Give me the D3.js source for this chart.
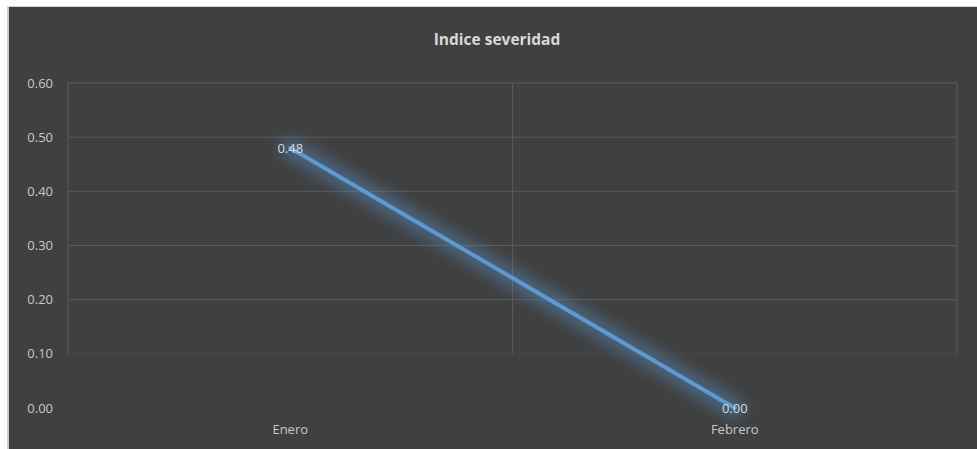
<!DOCTYPE html>
<html>
<head>
<meta charset="utf-8">
<script src="https://cdn.jsdelivr.net/npm/d3@7"></script>
<style>
  body { margin: 0; background: #fff; }
  svg { display: block; }
</style>
</head>
<body>
<div id="chart"></div>
<script>
const months = ["Enero", "Febrero"];
const severidad = [0.48, 0.00];
const yTicks = [0, 0.1, 0.2, 0.3, 0.4, 0.5, 0.6];

const width = 977, height = 449;
const margin = {left: 68, right: 20, top: 83, bottom: 41};

const svg = d3.select("#chart").append("svg")
  .attr("width", width)
  .attr("height", height);

// outer frame
svg.append("rect").attr("x", 7).attr("y", 6).attr("width", width).attr("height", height)
  .attr("fill", "#d0d0d0");
svg.append("rect").attr("x", 9).attr("y", 7).attr("width", width).attr("height", height)
  .attr("fill", "#404040");

const x = d3.scaleBand().domain(months).range([margin.left, 957]);
const y = d3.scaleLinear().domain([0, 0.6]).range([408, margin.top]);

const defs = svg.append("defs");
const glow = defs.append("filter").attr("id", "glow")
  .attr("x", "-20%").attr("y", "-20%").attr("width", "140%").attr("height", "140%");
glow.append("feGaussianBlur").attr("stdDeviation", 7);

// horizontal gridlines
svg.append("g")
  .selectAll("line")
  .data(yTicks.filter(d => d > 0))
  .join("line")
  .attr("x1", margin.left).attr("x2", 957)
  .attr("y1", d => y(d)).attr("y2", d => y(d))
  .attr("stroke", "#5a5a5a")
  .attr("stroke-opacity", d => d <= 0.1 ? 0.4 : 1)
  .attr("stroke-width", 1);

// vertical gridlines at band edges
const edges = [margin.left, ...months.map(m => x(m) + x.bandwidth())];
svg.append("g")
  .selectAll("line")
  .data(edges)
  .join("line")
  .attr("x1", d => d).attr("x2", d => d)
  .attr("y1", y(0.6)).attr("y2", y(0.1))
  .attr("stroke", "#5a5a5a")
  .attr("stroke-width", 1);

// y tick labels
svg.append("g")
  .selectAll("text")
  .data(yTicks)
  .join("text")
  .attr("x", 53)
  .attr("y", d => y(d))
  .attr("dy", "0.35em")
  .attr("text-anchor", "end")
  .attr("fill", "#c8c8c8")
  .attr("font-family", "Open Sans, Noto Sans, sans-serif")
  .attr("font-size", 13)
  .text(d => d3.format(".2f")(d));

// x labels
svg.append("g")
  .selectAll("text")
  .data(months)
  .join("text")
  .attr("x", d => x(d) + x.bandwidth() / 2)
  .attr("y", 434)
  .attr("text-anchor", "middle")
  .attr("fill", "#c8c8c8")
  .attr("font-family", "Open Sans, Noto Sans, sans-serif")
  .attr("font-size", 13)
  .text(d => d);

// title
svg.append("text")
  .attr("x", 497).attr("y", 45)
  .attr("text-anchor", "middle")
  .attr("fill", "#d9d9d9")
  .attr("font-family", "Open Sans, Noto Sans, sans-serif")
  .attr("font-weight", "bold")
  .attr("font-size", 15.5)
  .text("Indice severidad");

const pts = months.map((m, i) => ({m, v: severidad[i]}));
const line = d3.line()
  .x(d => x(d.m) + x.bandwidth() / 2)
  .y(d => y(d.v));

svg.append("path")
  .datum(pts)
  .attr("d", line)
  .attr("fill", "none")
  .attr("stroke", "#5b9bd5")
  .attr("stroke-opacity", 0.4)
  .attr("stroke-width", 20)
  .attr("stroke-linecap", "round")
  .attr("filter", "url(#glow)");

svg.append("path")
  .datum(pts)
  .attr("d", line)
  .attr("fill", "none")
  .attr("stroke", "#5b9bd5")
  .attr("stroke-width", 4)
  .attr("stroke-linecap", "round");

// data labels
svg.append("g")
  .selectAll("text")
  .data(pts)
  .join("text")
  .attr("x", d => x(d.m) + x.bandwidth() / 2)
  .attr("y", d => y(d.v))
  .attr("dy", "0.35em")
  .attr("text-anchor", "middle")
  .attr("fill", "#d9d9d9")
  .attr("font-family", "Open Sans, Noto Sans, sans-serif")
  .attr("font-size", 13)
  .text(d => d3.format(".2f")(d.v));
</script>
</body>
</html>
